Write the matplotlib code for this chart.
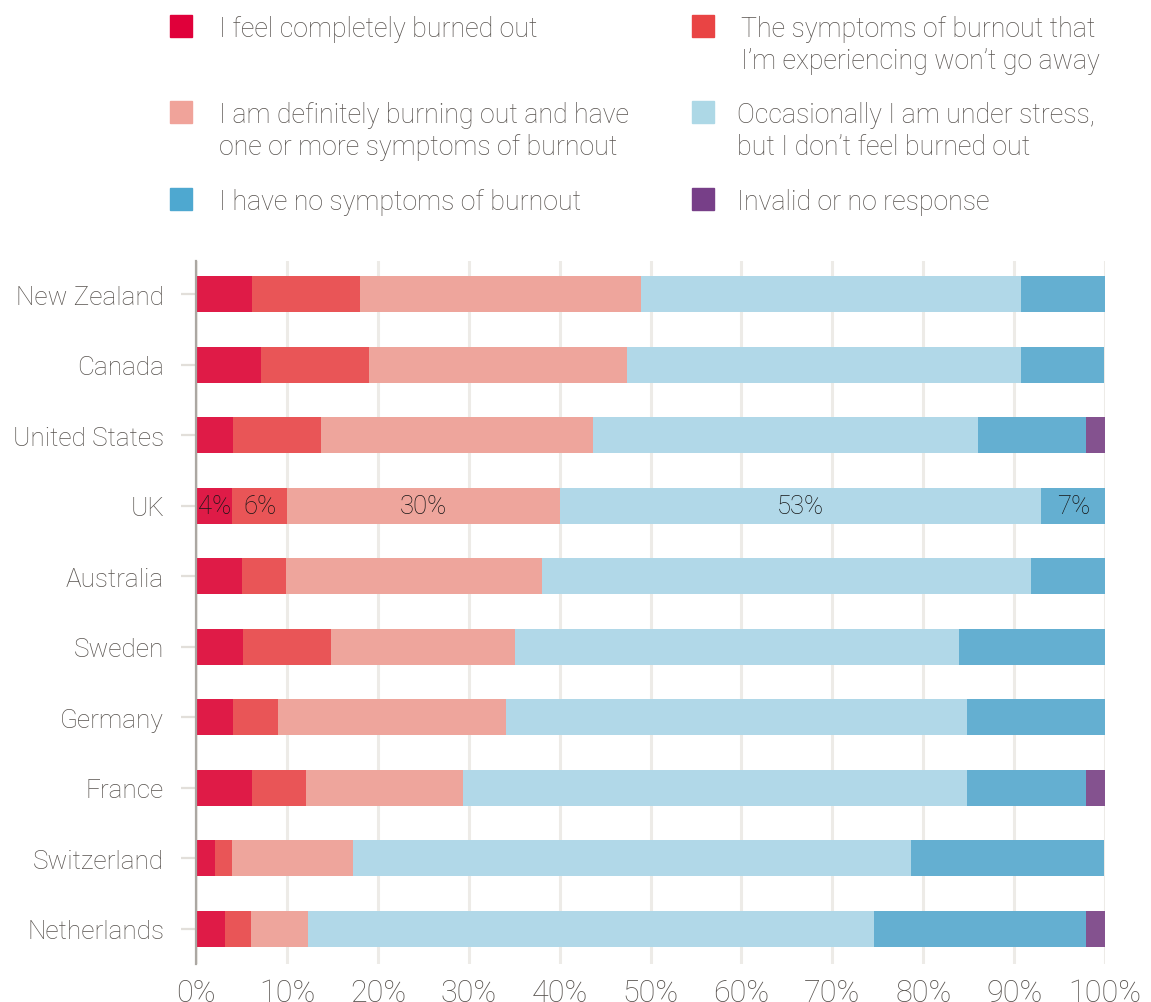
import numpy as np
import matplotlib
matplotlib.use("Agg")
import matplotlib.pyplot as plt
from matplotlib.patches import Rectangle

plt.rcParams['font.family'] = ['Roboto', 'DejaVu Sans']
plt.rcParams['font.weight'] = 'light'

countries = ["New Zealand", "Canada", "United States", "UK", "Australia",
             "Sweden", "Germany", "France", "Switzerland", "Netherlands"]

# shares per answer, in % of respondents
completely_burned = [6.2, 7.2, 4.1, 4, 5.1, 5.2, 4.1, 6.2, 2.1, 3.2]
wont_go_away      = [11.8, 11.8, 9.7, 6, 4.8, 9.7, 4.9, 5.9, 1.9, 2.8]
burning_out       = [31.0, 28.4, 29.9, 30, 28.2, 20.2, 25.1, 17.3, 13.3, 6.3]
occasional_stress = [41.7, 43.3, 42.3, 53, 53.8, 48.8, 50.7, 55.4, 61.3, 62.3]
no_symptoms       = [9.3, 9.2, 11.9, 7, 8.1, 16.1, 15.2, 13.1, 21.3, 23.3]
no_response       = [0, 0, 2.1, 0, 0, 0, 0, 2.1, 0, 2.1]

labels = ["I feel completely burned out",
          "The symptoms of burnout that\nI\u2019m experiencing won\u2019t go away",
          "I am definitely burning out and have\none or more symptoms of burnout",
          "Occasionally I am under stress,\nbut I don\u2019t feel burned out",
          "I have no symptoms of burnout",
          "Invalid or no response"]

bar_colors = ["#DF1B47", "#E95557", "#EEA59C", "#B1D8E8", "#64AFD1", "#84528F"]
key_colors = ["#E0003A", "#E94444", "#F0A39A", "#ADD8E6", "#4EA8D0", "#773F88"]
text_grey = "#58534F"

series = [completely_burned, wont_go_away, burning_out,
          occasional_stress, no_symptoms, no_response]

labelled_row = "UK"

fig = plt.figure(figsize=(11.51, 10.03), dpi=100)
ax = fig.add_axes([0.1703, 0.0379, 0.7898, 0.7009])

y = np.arange(len(countries))
left = np.zeros(len(countries))
for vals, col in zip(series, bar_colors):
    vals = np.array(vals, dtype=float)
    ax.barh(y, vals, left=left, height=0.51, color=col, zorder=3)
    # value labels for the highlighted country
    i = countries.index(labelled_row)
    if vals[i] > 0:
        ax.text(left[i] + vals[i] / 2, y[i], f"{vals[i]:.0f}%", ha="center",
                va="center", fontsize=18.5, color="#161616", zorder=4)
    left += vals

ax.set_xlim(0, 100)
ax.set_ylim(9.5, -0.47)
ax.set_yticks(y)
ax.set_yticklabels(countries)
ax.set_xticks(np.arange(0, 101, 10))
ax.set_xticklabels([f"{v}%" for v in range(0, 101, 10)])

ax.grid(axis="x", color="#EDEBE7", linewidth=2.2, zorder=0)
for s in ["top", "right", "bottom"]:
    ax.spines[s].set_visible(False)
ax.spines["left"].set_color("#ABA7A2")
ax.spines["left"].set_linewidth(1.6)
ax.spines["left"].set_zorder(5)

ax.tick_params(axis="y", length=11, width=1.6, color="#E2DFDA", pad=12,
               labelsize=18.8, labelcolor=text_grey)
ax.tick_params(axis="x", length=0, pad=10, labelsize=22, labelcolor=text_grey)

# legend drawn by hand in two columns
W, H = 1151, 1003
key_pos = [(170, 27, 219), (692, 27, 741),
           (170, 113, 219), (692, 113, 737),
           (170, 200, 219), (692, 200, 737)]
for (sx, cy, tx), lab, col in zip(key_pos, labels, key_colors):
    fig.patches.append(Rectangle((sx / W, 1 - (cy + 11) / H), 22 / W, 22 / H,
                                 transform=fig.transFigure, color=col))
    fig.text(tx / W, 1 - (cy - 11) / H, lab, ha="left", va="top",
             fontsize=19.3, color=text_grey, linespacing=1.24)

fig.savefig("out.png", dpi=100)
